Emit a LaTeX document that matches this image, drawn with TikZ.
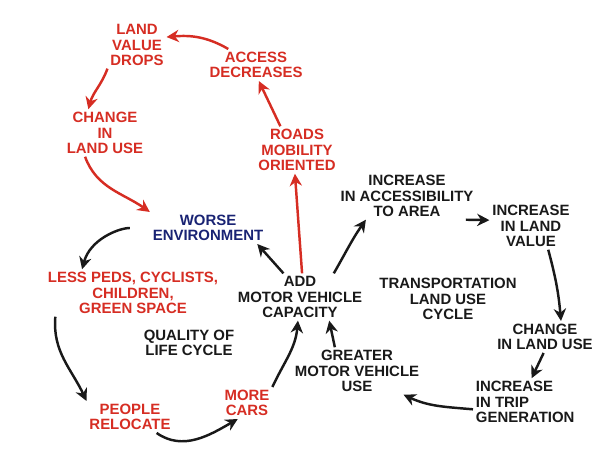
\documentclass[tikz,border=0pt]{standalone}
\usepackage{fontspec}
\setmainfont{Liberation Sans}
\usepackage{xcolor}
\usetikzlibrary{arrows.meta}

\definecolor{penred}{RGB}{214,45,35}
\definecolor{penblue}{RGB}{25,35,115}
\definecolor{penblack}{RGB}{25,25,25}

\begin{document}
\begin{tikzpicture}[>={Stealth[length=7pt,width=7pt]},
    txt/.style={align=center, inner sep=1.5pt, text=penblack,
                font=\fontsize{8.5}{8.8}\selectfont\bfseries},
    redtxt/.style={txt, text=penred},
    bluetxt/.style={txt, text=penblue},
    redarr/.style={->, line width=1.4pt, penred},
    blkarr/.style={->, line width=1.4pt, penblack}]
    \useasboundingbox (0,0) rectangle (11.88,9.28);

    % quality of life cycle
    \node[redtxt] (landval) at (2.74,8.38) {LAND\\VALUE\\DROPS};
    \node[redtxt] (access) at (5.12,7.98) {ACCESS\\DECREASES};
    \node[redtxt] (chg1) at (2.10,6.62) {CHANGE\\IN\\LAND USE};
    \node[redtxt] (roads) at (5.94,6.28) {ROADS\\MOBILITY\\ORIENTED};
    \node[bluetxt] (worse) at (4.16,4.72) {WORSE\\ENVIRONMENT};
    \node[redtxt] (less) at (2.66,3.42) {LESS PEDS, CYCLISTS,\\CHILDREN,\\GREEN SPACE};
    \node[txt] (add) at (6.00,3.34) {ADD\\MOTOR VEHICLE\\CAPACITY};
    \node[txt] (qol) at (3.78,2.42) {QUALITY OF\\LIFE CYCLE};
    \node[redtxt] (people) at (2.60,0.94) {PEOPLE\\RELOCATE};
    \node[redtxt] (cars) at (4.94,1.22) {MORE\\CARS};

    % transportation land use cycle
    \node[txt] (accinc) at (8.14,5.36) {INCREASE\\IN ACCESSIBILITY\\TO AREA};
    \node[txt] (lvinc) at (10.62,4.76) {INCREASE\\IN LAND\\VALUE};
    \node[txt] (tluc) at (8.96,3.30) {TRANSPORTATION\\LAND USE\\CYCLE};
    \node[txt] (chg2) at (10.90,2.54) {CHANGE\\IN LAND USE};
    \node[txt, align=left, anchor=west] (trip) at (9.46,1.24) {INCREASE\\IN TRIP\\GENERATION};
    \node[txt] (greater) at (7.14,1.86) {GREATER\\MOTOR VEHICLE\\USE};

    \draw[redarr] (access.150) to[out=150,in=5] (landval.15);
    \draw[redarr] (landval.south west) to[out=-110,in=75] (chg1.125);
    \draw[redarr] (chg1.-130) to[out=-70,in=145] (worse.north west);
    \draw[redarr] (roads.125) -- (access.-80);
    \draw[redarr] (add.85) -- (roads.-95);

    \draw[blkarr, shorten <=0.4cm] (worse.west) to[out=180,in=75] (less.155);
    \draw[blkarr] (add.125) -- (worse.-18);
    \draw[blkarr] (less.-163) to[out=-95,in=115] (people.north west);
    \draw[blkarr] (people.-31) to[out=-35,in=-150] (cars.-120);
    \draw[blkarr] (cars.north east) to[out=65,in=-95] (add.-95);

    \draw[blkarr] (add.35) to[out=60,in=-125] (accinc.-150);
    \draw[blkarr] (accinc.-22) -- (lvinc.172);
    \draw[blkarr] (lvinc.-54) to[out=-75,in=95] (chg2.45);
    \draw[blkarr] (chg2.-95) -- (trip.75);
    \draw[blkarr] (trip.188) to[out=175,in=-25] (greater.-27);
    \draw[blkarr] (greater.133) -- (add.-39);
\end{tikzpicture}
\end{document}
